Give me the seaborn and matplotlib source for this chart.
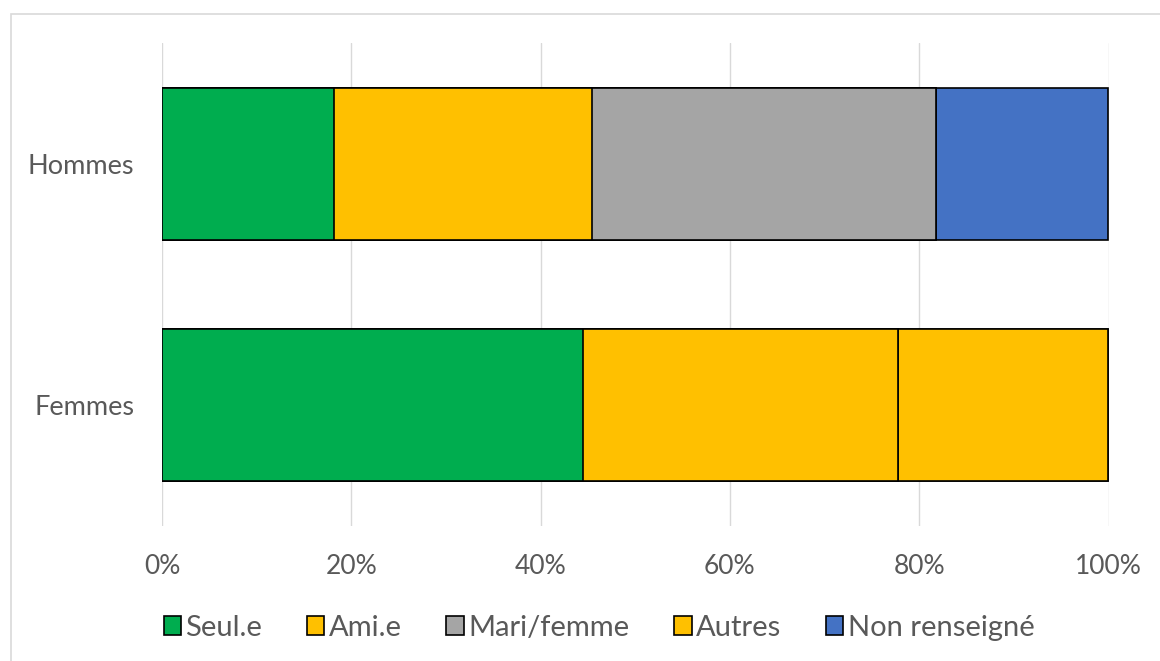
import matplotlib
matplotlib.use("Agg")
import matplotlib.pyplot as plt
from matplotlib.patches import Patch, Rectangle
import seaborn as sns
import numpy as np
import pandas as pd

# ---- data ----
groups = ["Hommes", "Femmes"]
series = ["Seul.e", "Ami.e", "Mari/femme", "Autres", "Non renseigné"]
seul = [18.18, 44.44]
ami = [27.27, 33.33]
mari = [36.36, 0.0]
autres = [0.0, 22.22]
non_rens = [18.18, 0.0]
colors = ["#00AD4F", "#FFC000", "#A5A5A5", "#FFC000", "#4472C4"]
xticks = [0, 20, 40, 60, 80, 100]
xtick_labels = ["0%", "20%", "40%", "60%", "80%", "100%"]

values = [seul, ami, mari, autres, non_rens]

sns.set_theme(style="white")
plt.rcParams["font.family"] = ["Lato", "DejaVu Sans"]
TXT = "#595959"
FS = 19

fig = plt.figure(figsize=(11.6, 6.61), dpi=100)
ax = fig.add_axes([162 / 1160, 1 - 526 / 661, (1108.5 - 162) / 1160, (526 - 43) / 661])

# cumulative totals; draw from the last series to the first so earlier ones cover
cum = np.cumsum(np.array(values), axis=0)
for i in range(len(series) - 1, -1, -1):
    df = pd.DataFrame({"groupe": groups, "valeur": cum[i]})
    sns.barplot(data=df, x="valeur", y="groupe", order=groups, orient="h",
                color=colors[i], saturation=1, edgecolor="black", linewidth=1.2,
                width=0.629, ax=ax, zorder=3)

ax.set_xlim(0, 100)
ax.set_xticks(xticks)
ax.set_xticklabels(xtick_labels)
ax.set_xlabel("")
ax.set_ylabel("")
ax.grid(axis="x", color="#D9D9D9", linewidth=1.0, zorder=0)
ax.grid(axis="y", visible=False)
ax.set_axisbelow(True)
for s in ax.spines.values():
    s.set_visible(False)
ax.tick_params(axis="x", length=0, pad=20, labelsize=FS, labelcolor=TXT)
ax.tick_params(axis="y", length=0, pad=20, labelsize=FS + 0.5, labelcolor=TXT)

handles = [Patch(facecolor=c, edgecolor="black", linewidth=1.2) for c in colors]
fig.legend(handles, series, loc="center", bbox_to_anchor=(599 / 1160, 1 - 628 / 661),
           ncol=5, frameon=False, fontsize=21, labelcolor=TXT,
           handlelength=0.6, handleheight=0.6, handletextpad=0.15,
           columnspacing=1.53, borderaxespad=0)

# outer chart-area border
fig.patches.append(Rectangle((11 / 1160, -0.1), 2, 1 - 14 / 661 + 0.1,
                             transform=fig.transFigure, fill=False,
                             edgecolor="#D9D9D9", linewidth=1.2))

fig.savefig("out.png", dpi=100)
